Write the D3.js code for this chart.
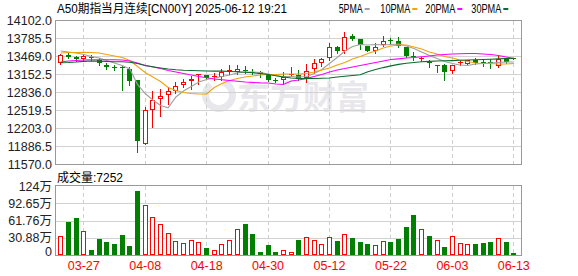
<!DOCTYPE html>
<html>
<head>
<meta charset="utf-8">
<script src="https://cdn.jsdelivr.net/npm/d3@7/dist/d3.min.js"></script>
<style>
body { margin: 0; background: #fff; }
svg { display: block; }
</style>
</head>
<body>
<script>
const dates = ["03-24","03-25","03-26","03-27","03-28","03-31","04-01","04-02","04-03","04-04",
    "04-07","04-08","04-09","04-10","04-11","04-14","04-15","04-16","04-17","04-18",
    "04-21","04-22","04-23","04-24","04-25","04-28","04-29","04-30","05-01","05-02",
    "05-05","05-06","05-07","05-08","05-09","05-12","05-13","05-14","05-15","05-16",
    "05-19","05-20","05-21","05-22","05-23","05-26","05-27","05-28","05-29","05-30",
    "06-02","06-03","06-04","06-05","06-06","06-09","06-10","06-11","06-12","06-13"];

const opens = [13346,13504,13457,13429,13464,13404,13328,13281,13288,13258,
    13052,11934,12537,12725,12796,12854,12971,13042,13140,13135,
    13117,13112,13214,13205,13228,13205,13193,13135,13059,13052,
    13161,13147,13087,13253,13358,13439,13640,13569,13826,13768,
    13645,13566,13671,13756,13741,13636,13481,13425,13376,13320,
    13328,13214,13364,13341,13407,13381,13376,13302,13443,13443];
const highs = [13510,13522,13474,13504,13492,13434,13358,13316,13298,13276,
    13052,12585,12854,12889,12936,13029,13065,13123,13158,13140,
    13179,13253,13311,13311,13298,13253,13218,13140,13087,13193,
    13288,13240,13334,13429,13435,13710,13650,13896,13868,13775,
    13650,13715,13826,13794,13812,13640,13548,13464,13407,13325,
    13330,13315,13399,13407,13446,13416,13429,13504,13450,13450];
const lows = [13340,13434,13393,13404,13404,13316,13253,13240,12876,12964,
    11786,11930,12226,12419,12630,12831,12924,12901,12982,13080,
    13056,13052,13153,13170,13182,13158,13112,13045,13017,12994,
    13123,13052,13029,13182,13298,13416,13522,13522,13756,13601,
    13560,13534,13650,13689,13636,13460,13416,13387,13293,13193,
    13052,13182,13320,13316,13340,13298,13267,13293,13355,13430];
const closes = [13504,13457,13422,13474,13434,13358,13276,13270,13276,13042,
    11980,12525,12701,12783,12854,12959,13029,13077,13153,13087,
    13126,13193,13223,13253,13218,13193,13158,13052,13052,13112,
    13170,13077,13218,13346,13429,13640,13557,13815,13780,13675,
    13566,13636,13741,13745,13662,13474,13469,13434,13367,13323,
    13205,13311,13372,13399,13346,13372,13367,13425,13372,13434];

// 成交量, 万
const volumes = [34.1,59.5,66.6,43.0,9.8,29.3,24.0,20.4,36.4,16.9,
    114.6,89.2,67.9,55.4,39.5,25.2,21.7,27.0,23.5,13.3,
    9.2,19.9,27.0,46.6,56.0,38.2,6.2,18.7,6.2,9.2,
    5.7,27.5,32.3,27.0,19.9,32.3,25.8,37.7,31.1,24.0,
    20.4,18.1,25.2,22.8,29.3,50.7,72.0,47.1,34.7,27.5,
    15.1,34.1,21.7,19.9,20.4,22.2,24.0,30.6,24.0,0.7252];

const ma5 = [13566,13548,13530,13504,13469,13443,13399,13355,13311,13249,
    12977,12818,12704,12607,12567,12757,12862,12941,13021,13065,
    13091,13117,13144,13179,13196,13196,13188,13161,13135,13117,
    13117,13109,13117,13170,13240,13346,13451,13566,13645,13680,
    13671,13680,13671,13680,13689,13654,13610,13548,13487,13434,
    13381,13346,13320,13311,13337,13346,13355,13363,13372,13372];
const ma10 = [13530,13539,13539,13543,13539,13530,13504,13478,13451,13399,
    13293,13188,13109,13029,12924,12871,12836,12818,12809,12809,
    12924,12994,13047,13082,13109,13126,13144,13152,13152,13161,
    13161,13161,13170,13196,13232,13267,13320,13363,13425,13469,
    13522,13566,13619,13654,13671,13671,13636,13601,13548,13513,
    13469,13443,13407,13381,13355,13346,13346,13337,13337,13346];
const ma20 = [13372,13390,13399,13407,13411,13411,13411,13411,13407,13390,
    13355,13311,13285,13258,13223,13196,13170,13144,13117,13094,
    13073,13059,13047,13034,13021,13012,13006,13003,12985,12977,
    13038,13056,13082,13117,13152,13196,13232,13258,13285,13311,
    13337,13363,13390,13416,13428,13443,13451,13464,13478,13495,
    13504,13513,13518,13522,13522,13513,13504,13487,13460,13434];
const ma30 = [13358,13363,13372,13384,13390,13387,13381,13376,13376,13367,
    13346,13311,13288,13267,13249,13235,13226,13223,13219,13214,
    13211,13211,13205,13200,13191,13182,13170,13152,13130,13109,
    13091,13082,13082,13082,13086,13091,13109,13121,13135,13147,
    13202,13239,13274,13304,13331,13349,13363,13376,13383,13390,
    13393,13397,13402,13407,13411,13416,13421,13428,13434,13437];

const priceTicks = [14102.0,13785.5,13469.0,13152.5,12836.0,12519.5,12203.0,11886.5,11570.0];
const volTicks = [0,30.88,61.76,92.65,123.53];
const volTickLabels = ["0","30.88万","61.76万","92.65万","124万"];
const dateLabels = ["03-27","04-08","04-18","04-30","05-12","05-22","06-03","06-13"];

const maNames = ["5PMA","10PMA","20PMA","30PMA"];
const maColors = ["#a0a0a0","#f0a30a","#ff00ff","#0b6b2c"];

const upColor = "#ff0000";
const downColor = "#008000";
const labelFont = "'Liberation Sans', Arial, 'Noto Sans CJK SC', sans-serif";

let svg = d3.select("body").append("svg")
    .attr("width", 578)
    .attr("height", 276)
    .style("font-family", labelFont);

let x = d3.scaleBand().domain(dates).range([56.86, 517.66]);
let cx = d => x(d) + x.bandwidth() / 2;
let y = d3.scaleLinear().domain([11570, 14102]).range([164.5, 20.5]);
let yv = d3.scaleLinear().domain([0, 123.53]).range([255, 186]);

// watermark
let wm = svg.append("g").attr("fill", "#e8e8ec");
wm.append("path")
    .attr("fill-rule", "evenodd")
    .attr("d", d3.arc()({ innerRadius: 10, outerRadius: 17, startAngle: 0.3, endAngle: 5.6 }))
    .attr("transform", "translate(219,95)");
wm.append("text")
    .attr("x", 237).attr("y", 109)
    .attr("font-size", 33).attr("font-weight", "bold")
    .attr("font-family", "'Noto Sans CJK SC', sans-serif")
    .text("东方财富");

// grids
let grid = svg.append("g").attr("shape-rendering", "crispEdges");
grid.selectAll(".hg").data(priceTicks.slice(1, -1)).enter().append("line")
    .attr("x1", 56).attr("x2", 521)
    .attr("y1", d => y(d)).attr("y2", d => y(d))
    .attr("stroke", "#d2d2d2");
grid.selectAll(".vg").data(volTicks.slice(1, -1)).enter().append("line")
    .attr("x1", 56).attr("x2", 521)
    .attr("y1", d => Math.round(yv(d)) + 0.5).attr("y2", d => Math.round(yv(d)) + 0.5)
    .attr("stroke", "#d2d2d2");
dateLabels.forEach(d => {
    let gx = Math.floor(cx(d)) + 0.5;
    [[21, 164], [186, 255]].forEach(r => {
        grid.append("line")
            .attr("x1", gx).attr("x2", gx)
            .attr("y1", r[0]).attr("y2", r[1])
            .attr("stroke", "#cfcfcf")
            .attr("stroke-dasharray", "4,3");
    });
});

// candles
let candles = svg.append("g").attr("shape-rendering", "crispEdges");
dates.forEach((d, i) => {
    let px = Math.floor(cx(d));
    let up = closes[i] >= opens[i];
    let col = up ? upColor : downColor;
    candles.append("line")
        .attr("x1", px + 0.5).attr("x2", px + 0.5)
        .attr("y1", Math.round(y(highs[i]))).attr("y2", Math.round(y(lows[i])) + 1)
        .attr("stroke", col);
    let t = Math.round(y(Math.max(opens[i], closes[i])));
    let b = Math.round(y(Math.min(opens[i], closes[i])));
    if (b - t < 1) b = t + 1;
    if (up && b - t > 2) {
        candles.append("rect")
            .attr("x", px - 1.5).attr("y", t + 0.5)
            .attr("width", 4).attr("height", b - t - 1)
            .attr("fill", "#fff").attr("stroke", col);
    } else {
        candles.append("rect")
            .attr("x", px - 2).attr("y", t)
            .attr("width", 5).attr("height", b - t)
            .attr("fill", col);
    }
});

// moving averages
let line = d3.line().x((v, i) => cx(dates[i])).y(v => y(v));
[ma5, ma10, ma20, ma30].forEach((s, k) => {
    svg.append("path")
        .attr("d", line(s))
        .attr("fill", "none")
        .attr("stroke", maColors[k])
        .attr("stroke-width", 1.1);
});

// volume bars
let bars = svg.append("g").attr("shape-rendering", "crispEdges");
dates.forEach((d, i) => {
    let px = Math.floor(cx(d));
    let up = closes[i] >= opens[i];
    let top = Math.min(Math.round(yv(volumes[i])), 253);
    if (up) {
        bars.append("rect")
            .attr("x", px - 1.5).attr("y", top + 0.5)
            .attr("width", 4).attr("height", 255 - top - 1)
            .attr("fill", "#fff").attr("stroke", upColor);
    } else {
        bars.append("rect")
            .attr("x", px - 2).attr("y", top)
            .attr("width", 5).attr("height", 255 - top)
            .attr("fill", downColor);
    }
});

// frames
svg.append("rect").attr("x", 55.5).attr("y", 20.5).attr("width", 466).attr("height", 144)
    .attr("fill", "none").attr("stroke", "#999").attr("shape-rendering", "crispEdges");
svg.append("rect").attr("x", 55.5).attr("y", 185.5).attr("width", 466).attr("height", 70)
    .attr("fill", "none").attr("stroke", "#999").attr("shape-rendering", "crispEdges");

// axes
let yAxis = svg.append("g")
    .attr("transform", "translate(55,0)")
    .call(d3.axisLeft(y).tickValues(priceTicks).tickFormat(d3.format(".1f")).tickSize(0).tickPadding(3));
let vAxis = svg.append("g")
    .attr("transform", "translate(55,0)")
    .call(d3.axisLeft(yv).tickValues(volTicks).tickFormat((d, i) => volTickLabels[i]).tickSize(0).tickPadding(3));
vAxis.selectAll(".tick text").filter(d => d === 0).attr("dy", "0.05em");
let xAxis = svg.append("g")
    .attr("transform", "translate(0,258)")
    .call(d3.axisBottom(x).tickValues(dateLabels).tickSize(0).tickPadding(3));
[yAxis, vAxis, xAxis].forEach(a => {
    a.select(".domain").remove();
    a.selectAll("text").attr("font-size", 12.5).attr("font-family", labelFont);
});
yAxis.selectAll("text").attr("fill", "#222");
vAxis.selectAll("text").attr("fill", "#222");
xAxis.selectAll("text").attr("fill", "#ff0000");

// title, legend
svg.append("text")
    .attr("x", 57).attr("y", 13)
    .attr("font-size", 12).attr("fill", "#000")
    .attr("textLength", 230).attr("lengthAdjust", "spacingAndGlyphs")
    .text("A50期指当月连续[CN00Y] 2025-06-12 19:21");

let legendX = [338.7, 380.3, 425.3, 471.3];
let legendW = [24, 30, 30, 30];
maNames.forEach((n, k) => {
    svg.append("text")
        .attr("x", legendX[k]).attr("y", 13)
        .attr("font-size", 12).attr("fill", "#000")
        .attr("textLength", legendW[k]).attr("lengthAdjust", "spacingAndGlyphs")
        .text(n);
    svg.append("rect")
        .attr("x", legendX[k] + legendW[k] + 2).attr("y", 8)
        .attr("width", 5).attr("height", 2)
        .attr("fill", maColors[k]);
});

svg.append("text")
    .attr("x", 57).attr("y", 182)
    .attr("font-size", 12).attr("fill", "#000")
    .text("成交量:" + 7252);
</script>
</body>
</html>
